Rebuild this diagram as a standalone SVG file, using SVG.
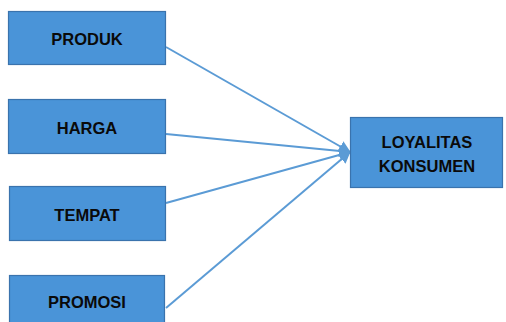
<svg xmlns="http://www.w3.org/2000/svg" width="506" height="322" viewBox="0 0 506 322">
<style>
.box{fill:#4a94d8;stroke:#3a73ad;stroke-width:1.2}
.lbl{font-family:"Liberation Sans",Arial,sans-serif;font-weight:bold;font-size:16.5px;fill:#0a0a0a;text-anchor:middle}
.con{stroke:#5b9bd5;stroke-width:2;fill:none}
</style>
<defs>
<marker id="ah" markerWidth="12" markerHeight="12" refX="11" refY="6" orient="auto" markerUnits="userSpaceOnUse">
<path d="M0,0 L12,6 L0,12 Z" fill="#5b9bd5"/>
</marker>
</defs>
<rect width="506" height="322" fill="#ffffff"/>
<g id="connectors">
<line class="con" x1="166" y1="47" x2="350" y2="152" marker-end="url(#ah)"/>
<line class="con" x1="166" y1="134" x2="350" y2="152" marker-end="url(#ah)"/>
<line class="con" x1="166" y1="203" x2="350" y2="152" marker-end="url(#ah)"/>
<line class="con" x1="166" y1="308" x2="350" y2="152" marker-end="url(#ah)"/>
</g>
<g id="produk">
<rect class="box" x="8.5" y="11.5" width="157" height="53"/>
<text class="lbl" x="87" y="45">PRODUK</text>
</g>
<g id="harga">
<rect class="box" x="8.5" y="99.5" width="157" height="54"/>
<text class="lbl" x="87" y="134">HARGA</text>
</g>
<g id="tempat">
<rect class="box" x="9.5" y="186.5" width="156" height="54"/>
<text class="lbl" x="87" y="221">TEMPAT</text>
</g>
<g id="promosi">
<rect class="box" x="9.5" y="275.5" width="155" height="54"/>
<text class="lbl" x="87" y="308">PROMOSI</text>
</g>
<g id="loyalitas">
<rect class="box" x="350.5" y="117.5" width="152" height="70"/>
<text class="lbl" x="427" y="148">LOYALITAS</text>
<text class="lbl" x="427" y="172">KONSUMEN</text>
</g>
</svg>
